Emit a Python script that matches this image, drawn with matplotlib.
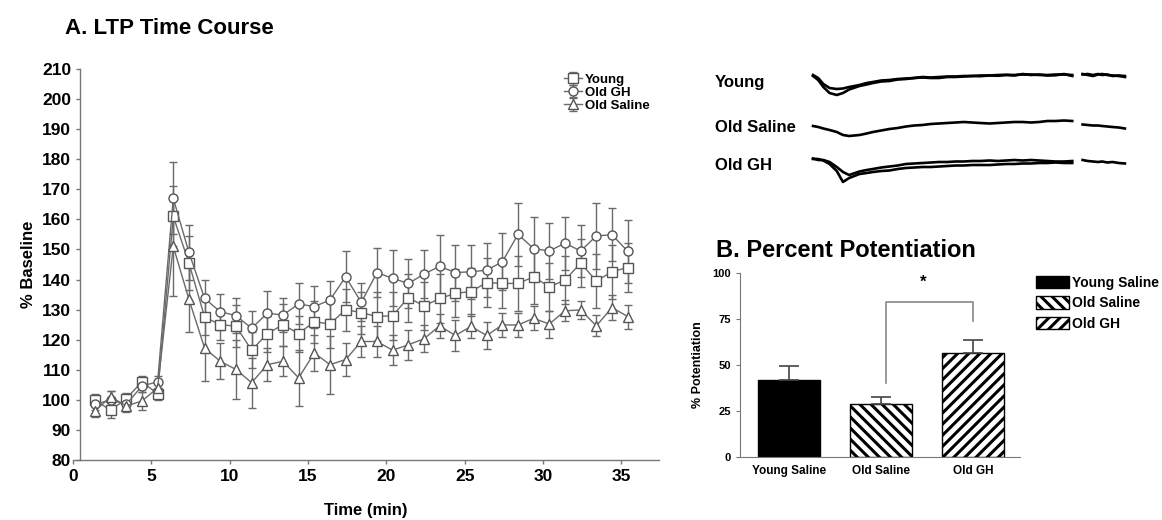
import numpy as np
import matplotlib
matplotlib.use('Agg')
import matplotlib.pyplot as plt

plt.rcParams['font.family'] = ['Liberation Sans', 'DejaVu Sans']
plt.rcParams['font.weight'] = 'bold'
plt.rcParams['hatch.linewidth'] = 2.2

# ---- A. LTP time course (% baseline) ----
time_min = [1.4, 2.4, 3.4, 4.4, 5.4, 6.4, 7.4, 8.4, 9.4, 10.4, 11.4, 12.4, 13.4, 14.4, 15.4,
            16.4, 17.4, 18.4, 19.4, 20.4, 21.4, 22.4, 23.4, 24.4, 25.4, 26.4, 27.4, 28.4,
            29.4, 30.4, 31.4, 32.4, 33.4, 34.4, 35.4]
young = [100, 96.5, 100.4, 106, 102, 161, 145.5, 127.5, 125, 124.5, 116.5, 122, 125, 122, 126,
         125.2, 130, 129, 127.7, 128, 134, 131.2, 133.7, 135.4, 136, 139, 138.7, 138.7,
         140.9, 137.6, 139.8, 145.5, 139.5, 142.6, 144]
young_err = [2, 2.5, 2, 2, 2, 10, 9, 6, 5, 7, 6, 6, 7, 6, 7,
             8, 7, 7, 8, 8, 8, 8, 8, 8, 8, 8, 8, 9,
             9, 8, 8, 8, 9, 9, 8]
old_gh = [98.5, 100, 98.5, 104.6, 106, 167, 149, 133.7, 129.3, 128, 123.8, 128.8, 128.2, 131.9, 131,
          133.2, 140.9, 132.4, 142.3, 140.4, 138.7, 141.8, 144.4, 142.3, 142.6, 143.1, 145.9, 155,
          150.3, 149.5, 152.1, 149.5, 154.5, 154.9, 149.4]
old_gh_err = [2, 3, 2, 2, 2, 12, 9, 6.3, 6, 5.7, 5.8, 7.5, 5.8, 6.8, 7,
              6.4, 8.5, 6.3, 8.2, 9.3, 8, 8.1, 10.3, 9.3, 9, 9, 9.5, 10.5,
              10.6, 9.4, 8.8, 8.7, 11, 8.8, 10.4]
old_saline = [96.3, 101, 98, 99.6, 104, 151, 133.4, 117.2, 112.8, 110.1, 105.7, 111.7, 112.8, 107.3, 115.6,
              111.7, 113.4, 119.4, 119.4, 116.5, 118.3, 120.3, 124.6, 121.4, 124.4, 121.4, 124.9, 124.9,
              127.1, 125.2, 129.6, 129.9, 124.6, 130.7, 127.7]
old_saline_err = [2, 2, 2, 3, 2, 16.5, 11, 10.8, 6, 9.7, 8.3, 5.5, 5, 9.3, 6,
                  9.6, 5.5, 5, 5.3, 5, 5, 4.5, 4, 5, 4, 4.5, 4, 4,
                  4, 4.5, 3.5, 3, 3.5, 4, 4]

# ---- B. Percent potentiation ----
groups = ['Young Saline', 'Old Saline', 'Old GH']
potentiation = [42, 29, 56.5]
potentiation_err = [7.5, 3.5, 7]
hatches = [None, '\\\\\\', '///']

# ---- example field potential traces (ms, mV) ----
trace_t1 = [0, 0.5, 1.0, 1.6, 2.3, 2.9, 3.5, 4.5, 5.2, 5.8, 6.6, 7.4, 8.2, 9.0, 9.8, 10.6, 11.4,
            12.2, 13.0, 13.8, 14.6, 15.4, 16.2, 17.1, 17.9, 18.7, 19.5, 20.3, 21.1, 21.9, 22.7,
            23.5, 24.3, 25.1]
trace_t2 = [26.1, 26.6, 27.1, 27.6, 28.0, 28.5, 29.0, 29.6, 30.2]
young_a1 = [-0.1, -0.5, -1.2, -1.8, -2.0, -1.8, -1.45, -1.1, -0.95, -0.8, -0.65, -0.6, -0.45, -0.4,
            -0.3, -0.25, -0.3, -0.3, -0.2, -0.2, -0.15, -0.1, -0.12, -0.05, -0.08, 0.0, -0.05, 0.1,
            0.0, 0.05, -0.05, -0.03, 0.1, -0.1]
young_b1 = [0.0, -0.3, -0.9, -1.3, -1.4, -1.35, -1.2, -1.0, -0.8, -0.7, -0.55, -0.5, -0.4, -0.35,
            -0.3, -0.2, -0.25, -0.2, -0.15, -0.15, -0.1, -0.1, -0.05, -0.05, 0.0, 0.02, 0.0, 0.05,
            0.05, 0.0, 0.0, 0.05, 0.05, 0.0]
young_a2 = [0.1, 0.0, -0.1, 0.05, 0.1, 0.0, -0.05, -0.1, -0.2]
young_b2 = [0.05, 0.1, 0.0, 0.1, 0.0, 0.05, -0.1, -0.05, -0.1]
saline_a1 = [-0.4, -0.5, -0.65, -0.8, -1.0, -1.3, -1.4, -1.3, -1.15, -1.0, -0.85, -0.7, -0.6, -0.45,
             -0.35, -0.3, -0.2, -0.15, -0.1, -0.05, 0.0, -0.05, -0.1, -0.15, -0.1, -0.05, 0.0, 0.0,
             -0.05, 0.0, 0.1, 0.1, 0.15, 0.1]
saline_a2 = [-0.25, -0.3, -0.35, -0.35, -0.4, -0.45, -0.5, -0.55, -0.65]
gh_a1 = [0.3, 0.3, 0.15, -0.2, -0.9, -2.0, -1.6, -1.2, -1.1, -1.0, -0.9, -0.85, -0.7, -0.6, -0.55,
         -0.5, -0.5, -0.45, -0.4, -0.35, -0.35, -0.3, -0.3, -0.3, -0.25, -0.2, -0.2, -0.15, -0.15,
         -0.1, -0.1, -0.05, -0.1, -0.1]
gh_b1 = [0.35, 0.2, 0.2, 0.0, -0.5, -1.0, -1.3, -0.95, -0.8, -0.7, -0.55, -0.45, -0.35, -0.2, -0.15,
         -0.1, -0.05, 0.0, 0.0, 0.05, 0.05, 0.1, 0.1, 0.15, 0.1, 0.15, 0.2, 0.15, 0.2, 0.15, 0.1,
         0.05, 0.05, 0.1]
gh_a2 = [0.2, 0.1, 0.05, 0.0, 0.05, -0.05, 0.0, -0.1, -0.15]
trace_names = ['Young', 'Old Saline', 'Old GH']

W, H = 1162, 520
fig = plt.figure(figsize=(W / 100, H / 100), dpi=100)
grey = '#6a6a6a'

# ---------------- panel A ----------------
axA = fig.add_axes([73 / W, 1 - 460 / H, 586 / W, 391 / H])
series = [(young, young_err, 's', 'Young'),
          (old_gh, old_gh_err, 'o', 'Old GH'),
          (old_saline, old_saline_err, '^', 'Old Saline')]
for vals, err, mk, lab in series:
    axA.errorbar(time_min, vals, yerr=err, fmt='-', marker=mk, color=grey, ecolor=grey,
                 elinewidth=1, capsize=3, capthick=1, lw=1, markersize=6.5,
                 markerfacecolor='white', markeredgecolor='#555555', markeredgewidth=1,
                 label=lab)
axA.set_xlim(0, 37.4)
axA.set_ylim(80, 210)
axA.set_yticks(range(80, 211, 10))
axA.set_xticks(range(0, 36, 5))
for s in ['top', 'right']:
    axA.spines[s].set_visible(False)
axA.spines['left'].set_position(('data', 0.45))
for s in ['left', 'bottom']:
    axA.spines[s].set_color('#777777')
    axA.spines[s].set_linewidth(1)
axA.tick_params(colors='#777777', labelcolor='black', labelsize=12.5, length=3, width=1)
for lbl in axA.get_xticklabels() + axA.get_yticklabels():
    lbl.set_fontweight('bold')
axA.set_xlabel('Time (min)', fontsize=12, fontweight='bold', labelpad=14)
axA.set_ylabel('% Baseline', fontsize=12, fontweight='bold', labelpad=4)
axA.legend(loc='upper left', bbox_to_anchor=(484 / 586, 1.005), frameon=False,
           fontsize=9.5, labelspacing=0.05, handlelength=1.4, handletextpad=0.2,
           borderpad=0)

fig.text(65 / W, 1 - 28 / H, 'A. LTP Time Course', fontsize=16, fontweight='bold',
         va='center', ha='left')

# ---------------- traces ----------------
axT = fig.add_axes([800 / W, 1 - 200 / H, 340 / W, 140 / H])
axT.set_xlim(-1.26, 31.66)
axT.set_ylim(-14, 0)
axT.axis('off')
offsets = [-1.5, -6.2, -10.2]
trace_sets = [[(trace_t1, young_a1), (trace_t1, young_b1), (trace_t2, young_a2), (trace_t2, young_b2)],
              [(trace_t1, saline_a1), (trace_t2, saline_a2)],
              [(trace_t1, gh_a1), (trace_t1, gh_b1), (trace_t2, gh_a2)]]
for off, segs in zip(offsets, trace_sets):
    for tt, vv in segs:
        axT.plot(tt, np.array(vv) + off, color='black', lw=1.9)
for name, ypix in zip(trace_names, [83, 127, 166]):
    fig.text(715 / W, 1 - ypix / H, name, fontsize=12, fontweight='bold', va='center', ha='left')

# ---------------- panel B ----------------
axB = fig.add_axes([740 / W, 1 - 457 / H, 280 / W, 184 / H])
x = np.arange(len(groups))
bars = []
for i in range(len(groups)):
    if hatches[i] is None:
        b = axB.bar(x[i], potentiation[i], width=0.67, color='black', edgecolor='black',
                    label=groups[i])
    else:
        b = axB.bar(x[i], potentiation[i], width=0.67, color='white', edgecolor='black',
                    hatch=hatches[i], linewidth=1, label=groups[i])
    bars.append(b)
axB.errorbar(x, potentiation, yerr=[np.zeros(len(x)), potentiation_err], fmt='none',
             ecolor='#444444', elinewidth=1.2, capsize=7, capthick=1.2)
axB.set_xlim(-0.53, 2.51)
axB.set_ylim(0, 100)
axB.set_yticks([0, 25, 50, 75, 100])
axB.set_xticks(x)
axB.set_xticklabels(groups, fontsize=8.5, fontweight='bold')
for s in ['top', 'right']:
    axB.spines[s].set_visible(False)
for s in ['left', 'bottom']:
    axB.spines[s].set_color('#777777')
axB.tick_params(axis='y', colors='#777777', labelcolor='black', labelsize=8, length=3)
axB.tick_params(axis='x', length=0, pad=6)
for lbl in axB.get_yticklabels():
    lbl.set_fontweight('bold')
axB.set_ylabel('% Potentiation', fontsize=9, fontweight='bold', labelpad=6)

# significance bracket between Old Saline and Old GH
axB.plot([1.05, 1.05, 2.0, 2.0], [40, 84, 84, 74], color='#888888', lw=1.2)
axB.text(1.46, 95, '*', fontsize=12, fontweight='bold', ha='center', va='center')

fig.text(716 / W, 1 - 250 / H, 'B. Percent Potentiation', fontsize=17, fontweight='bold',
         va='center', ha='left')
fig.legend(handles=bars, labels=groups, loc='upper left',
           bbox_to_anchor=(1036 / W, 1 - 276 / H), frameon=False, fontsize=10,
           handlelength=2.4, handleheight=1.0, handletextpad=0.2, labelspacing=0.45,
           borderpad=0, borderaxespad=0)

fig.savefig('out.png', dpi=100)
